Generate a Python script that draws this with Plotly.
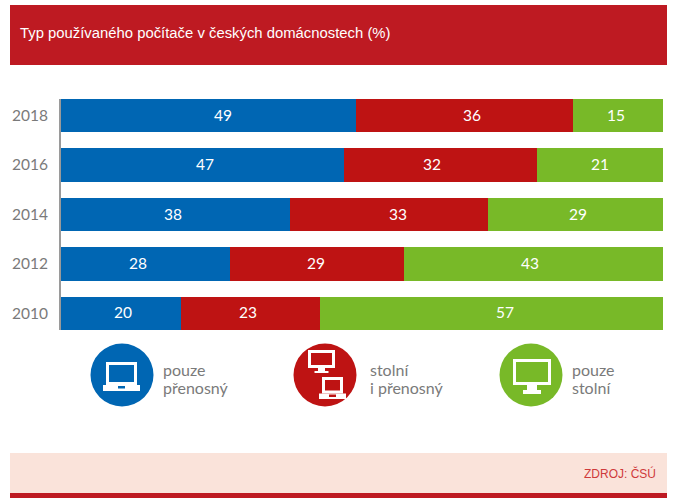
import plotly.graph_objects as go

W = 674
H = 502

YEARS = ["2010", "2012", "2014", "2016", "2018"]
LAPTOP_ONLY = [20, 28, 38, 47, 49]
BOTH = [23, 29, 33, 32, 36]
DESKTOP_ONLY = [57, 43, 29, 21, 15]

# the value labels sit off-centre in the original, nudges in px
LAPTOP_NUDGE = [2, -7, -2, 3, 15]
BOTH_NUDGE = [-3, -1, 9, -8, 8]
DESKTOP_NUDGE = [14, -4, 2, 0, -2]

BLUE = "#0066B3"
RED = "#BE1313"
GREEN = "#78B928"
HEADER_RED = "#BE1A22"
GRAY = "#7A7A7A"
BODY_FONT = "Lato"


def px(x):
    return x / W


def py(y):
    return 1 - y / H


def rect(x0, y0, x1, y1, color):
    return dict(type="rect", xref="paper", yref="paper", x0=px(x0), x1=px(x1),
                y0=py(y0), y1=py(y1), fillcolor=color, line=dict(width=0), layer="above")


def circle(cx, cy, r, color):
    return dict(type="circle", xref="paper", yref="paper", x0=px(cx - r), x1=px(cx + r),
                y0=py(cy - r), y1=py(cy + r), fillcolor=color, line=dict(width=0), layer="above")


def laptop(x0, y0, x1, y1, pad, bg, base):
    # screen, inner screen, base, touchpad notch
    cx = (x0 + x1) / 2
    return [
        rect(x0, y0, x1, y1 - base, "white"),
        rect(x0 + pad, y0 + pad, x1 - pad, y1 - base - pad, bg),
        rect(x0 - pad, y1 - base, x1 + pad, y1, "white"),
        rect(cx - 3.5, y1 - base + 1, cx + 3.5, y1 - base + 3.5, bg),
    ]


def monitor(x0, y0, x1, y1, pad, bg, neck, foot, neck_h, foot_h):
    cx = (x0 + x1) / 2
    return [
        rect(x0, y0, x1, y1, "white"),
        rect(x0 + pad, y0 + pad, x1 - pad, y1 - pad, bg),
        rect(cx - neck, y1, cx + neck, y1 + neck_h, "white"),
        rect(cx - foot, y1 + neck_h, cx + foot, y1 + neck_h + foot_h, "white"),
    ]


def note(x, y, text, color=GRAY, size=16, family=BODY_FONT, anchor="left"):
    return dict(xref="paper", yref="paper", x=px(x), y=py(y), text=text, showarrow=False,
                xanchor=anchor, yanchor="middle", align=anchor, borderpad=0,
                font=dict(color=color, size=size, family=family))


fig = go.Figure()
value_labels = []
left = [0] * len(YEARS)
for values, nudges, color in [(LAPTOP_ONLY, LAPTOP_NUDGE, BLUE), (BOTH, BOTH_NUDGE, RED),
                              (DESKTOP_ONLY, DESKTOP_NUDGE, GREEN)]:
    fig.add_trace(go.Bar(
        x=values, y=YEARS, orientation="h", marker=dict(color=color, line=dict(width=0)),
        showlegend=False,
    ))
    for i in range(len(YEARS)):
        # numeric looking categories: annotations need the category index here
        value_labels.append(dict(
            xref="x", yref="y", x=left[i] + values[i] / 2, y=i, text=str(values[i]),
            showarrow=False, xshift=nudges[i], yshift=1,
            font=dict(color="white", size=15.5, family=BODY_FONT),
        ))
        left[i] += values[i]

shapes = [
    rect(10, 5, 667, 65, HEADER_RED),
    rect(10, 453, 667, 493, "#FAE3DA"),
    rect(10, 493, 667, 498, HEADER_RED),
    circle(122, 375, 31.5, BLUE),
    circle(325, 375, 31.5, RED),
    circle(531, 375, 31.5, GREEN),
]
shapes += laptop(106, 362, 137, 391, 3, BLUE, 6)
shapes += monitor(308, 350, 335, 368, 3, RED, 3.5, 7, 3, 2)
shapes += laptop(322, 377, 343, 399, 3, RED, 5.5)
shapes += monitor(513, 359, 551, 385, 3, GREEN, 5, 9, 5, 4)

annotations = value_labels + [
    note(19, 33, "Typ používaného počítače v českých domácnostech (%)",
         color="white", size=14.85, family="Liberation Sans"),
    note(657, 473, "ZDROJ: ČSÚ", color="#CF3A3A", size=12, family="Liberation Sans", anchor="right"),
    note(162, 369, "pouze"),
    note(162, 387, "přenosný"),
    note(369, 369, "stolní"),
    note(369, 387, "i přenosný"),
    note(571, 369, "pouze"),
    note(571, 387, "stolní"),
]

fig.update_layout(
    barmode="stack",
    bargap=0.33,
    width=W,
    height=H,
    margin=dict(l=0, r=0, t=0, b=0),
    paper_bgcolor="white",
    plot_bgcolor="white",
    shapes=shapes,
    annotations=annotations,
    xaxis=dict(domain=[px(61), px(663)], range=[0, 100], visible=False, fixedrange=True),
    yaxis=dict(
        domain=[py(330), py(99)], type="category", range=[-0.335, 4.335],
        showgrid=False, zeroline=False, showline=True, linecolor="#9a9a9a", linewidth=2,
        ticks="", ticklabelstandoff=8, tickfont=dict(color=GRAY, size=15.5, family=BODY_FONT),
    ),
)

# the page's default body margin would shift the chart by 8px
fig.write_html("out.html", config=dict(displayModeBar=False),
               post_script="document.body.style.margin='0';")
